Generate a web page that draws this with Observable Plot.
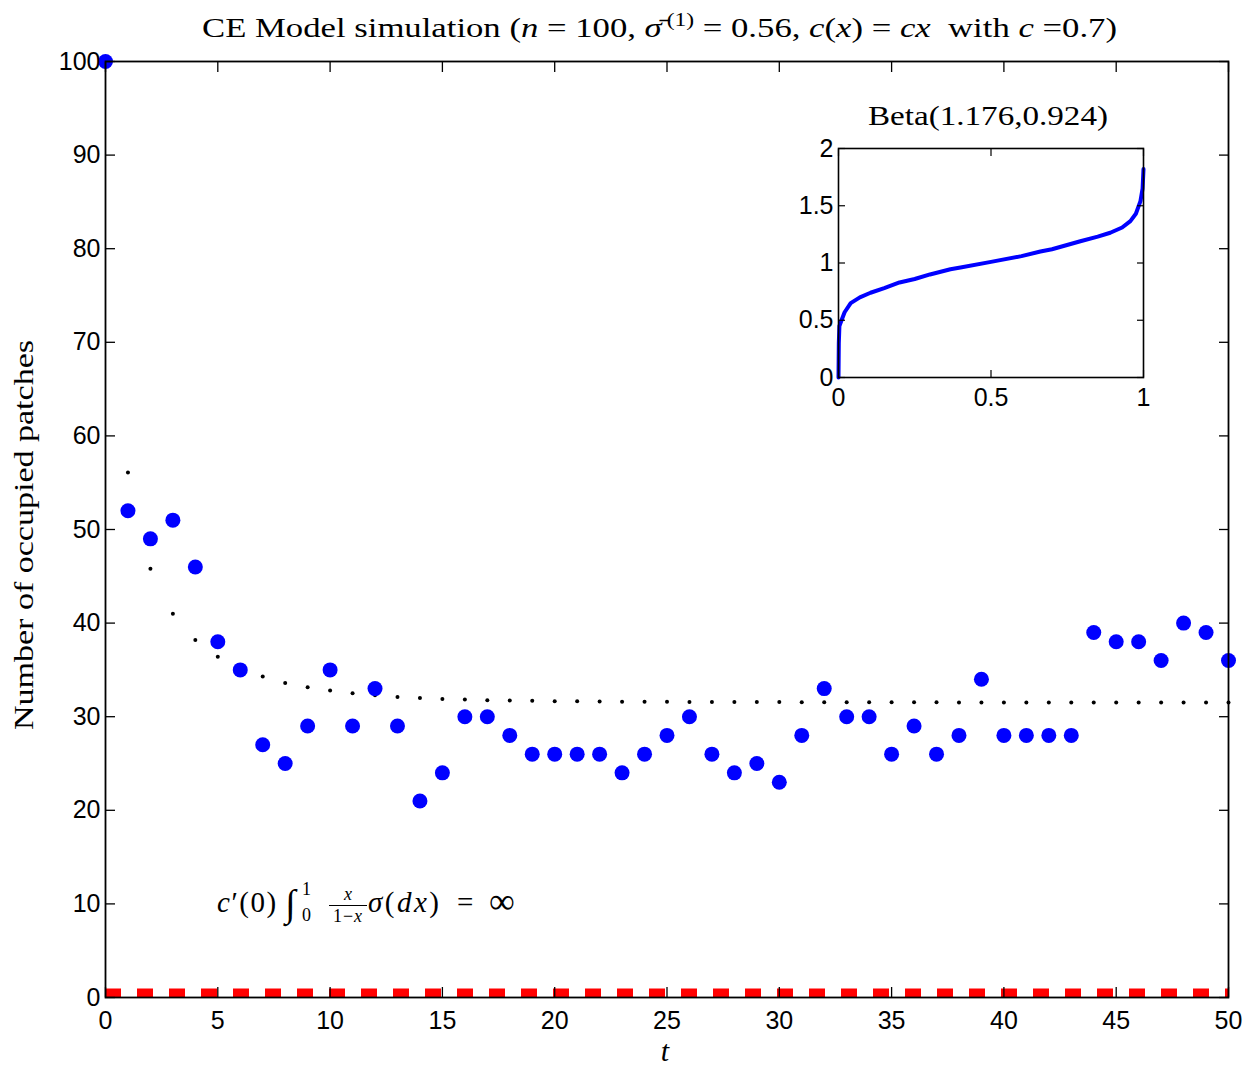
<!DOCTYPE html>
<html>
<head>
<meta charset="utf-8">
<script src="https://cdn.jsdelivr.net/npm/d3@7"></script>
<script src="https://cdn.jsdelivr.net/npm/@observablehq/plot@0.6"></script>
<style>
  body { margin: 0; background: #fff; }
  #wrap { position: relative; width: 1250px; height: 1069px; }
  #main, #inset, #overlay { position: absolute; }
  #main { left: 0; top: 0; }
  #inset { left: 778px; top: 138px; }
  #overlay { left: 0; top: 0; pointer-events: none; }
  #overlay text { font-family: "Liberation Serif", "DejaVu Serif", serif; fill: #000; }
</style>
</head>
<body>
<div id="wrap">
  <div id="main"></div>
  <div id="inset"></div>
  <svg id="overlay" width="1250" height="1069" xmlns="http://www.w3.org/2000/svg">
    <text x="202" y="37" font-size="28" textLength="915" lengthAdjust="spacingAndGlyphs">CE Model simulation (<tspan font-style="italic">n</tspan> = 100, <tspan font-style="italic">σ̄</tspan><tspan font-size="19" dx="4" dy="-11">(1)</tspan><tspan dy="11"> = 0.56, </tspan><tspan font-style="italic">c</tspan>(<tspan font-style="italic">x</tspan>) = <tspan font-style="italic">cx</tspan>&#160;&#160;with <tspan font-style="italic">c</tspan> =0.7)</text>
    <text transform="translate(33,535) rotate(-90)" text-anchor="middle" font-size="28" textLength="390" lengthAdjust="spacingAndGlyphs">Number of occupied patches</text>
    <text x="665" y="1061" text-anchor="middle" font-size="30" font-style="italic">t</text>
    <text x="868" y="125" font-size="28" textLength="240" lengthAdjust="spacingAndGlyphs">Beta(1.176,0.924)</text>
    <text x="217" y="912" font-size="29" letter-spacing="1.5"><tspan font-style="italic">c</tspan>′(0)</text>
    <text x="285" y="916" font-size="38">∫</text>
    <text x="302" y="895" font-size="18">1</text>
    <text x="302" y="921" font-size="18">0</text>
    <text x="348" y="900" font-size="18" text-anchor="middle" font-style="italic">x</text>
    <line x1="329" x2="367" y1="905.5" y2="905.5" stroke="#000" stroke-width="1"></line>
    <text x="348" y="922" font-size="18" text-anchor="middle" letter-spacing="1">1−<tspan font-style="italic">x</tspan></text>
    <text x="368" y="912" font-size="29" letter-spacing="2.5"><tspan font-style="italic">σ</tspan>(<tspan font-style="italic">dx</tspan>)</text>
    <text x="457" y="912" font-size="29">=</text>
    <text x="489" y="913" font-size="36">∞</text>
  </svg>
</div>
<script>
// ---- data ----
const tSteps = [0,1,2,3,4,5,6,7,8,9,10,11,12,13,14,15,16,17,18,19,20,21,22,23,24,25,26,27,28,29,30,31,32,33,34,35,36,37,38,39,40,41,42,43,44,45,46,47,48,49,50];
const occupied = [100,52,49,51,46,38,35,27,25,29,35,29,33,29,21,24,30,30,28,26,26,26,26,24,26,28,30,26,24,25,23,28,33,30,30,26,29,26,28,34,28,28,28,28,39,38,38,36,40,39,36];
const expected = [100,56.1,45.8,41.0,38.2,36.4,35.2,34.3,33.6,33.15,32.8,32.5,32.3,32.1,32.0,31.9,31.84,31.77,31.73,31.7,31.66,31.64,31.62,31.61,31.6,31.59,31.58,31.57,31.57,31.56,31.56,31.55,31.55,31.55,31.54,31.54,31.54,31.54,31.53,31.53,31.53,31.53,31.53,31.53,31.52,31.52,31.52,31.52,31.52,31.52,31.52];
const extinctionLine = [0];
const yTicks = [0,10,20,30,40,50,60,70,80,90,100];
const xTicks = [0,5,10,15,20,25,30,35,40,45,50];

const betaX = [0,0.001,0.003,0.01,0.02,0.04,0.07,0.105,0.15,0.2,0.25,0.3,0.367,0.4,0.5,0.6,0.662,0.7,0.793,0.85,0.891,0.93,0.957,0.975,0.99,0.997,1.0];
const betaY = [0,0.3,0.45,0.5,0.57,0.65,0.70,0.74,0.78,0.83,0.86,0.90,0.945,0.96,1.01,1.06,1.10,1.12,1.19,1.23,1.264,1.31,1.366,1.43,1.54,1.65,1.82];
const insetYTicks = [0,0.5,1,1.5,2];
const insetXTicks = [0,0.5,1];

// ---- tables built from the arrays ----
const series = tSteps.map((t, i) => ({t, occ: occupied[i], exp: expected[i]}));
const betaPts = betaX.map((x, i) => ({x, y: betaY[i]}));

const font = {fontFamily: "'Liberation Sans', Arial, sans-serif", fontSize: "25px", color: "black", overflow: "visible"};

const main = Plot.plot({
  width: 1250, height: 1069,
  marginLeft: 105, marginRight: 22, marginTop: 61, marginBottom: 72,
  style: {...font, background: "transparent"},
  x: {domain: [0, 50]},
  y: {domain: [0, 100]},
  marks: [
    Plot.ruleY(extinctionLine, {stroke: "#ff0000", strokeWidth: 18, strokeDasharray: "16,16", clip: true}),
    Plot.dot(series, {x: "t", y: "exp", r: 2, fill: "black"}),
    Plot.dot(series, {x: "t", y: "occ", r: 7.5, fill: "#0000ff"}),
    Plot.axisY({anchor: "left", ticks: yTicks, tickSize: 10, insetLeft: 10, tickPadding: 5, label: null, strokeWidth: 1.3}),
    Plot.axisY({anchor: "right", ticks: yTicks, tickSize: 10, insetRight: 10, tickFormat: () => "", label: null, strokeWidth: 1.3}),
    Plot.axisX({anchor: "bottom", ticks: xTicks, tickSize: 10, insetBottom: 10, tickPadding: 14, label: null, strokeWidth: 1.3}),
    Plot.axisX({anchor: "top", ticks: xTicks, tickSize: 10, insetTop: 10, tickFormat: () => "", label: null, strokeWidth: 1.3}),
    Plot.frame({stroke: "black", strokeWidth: 1.8})
  ]
});
document.getElementById("main").appendChild(main);

const inset = Plot.plot({
  width: 385, height: 274,
  marginLeft: 60, marginRight: 20, marginTop: 10, marginBottom: 35,
  style: {...font, background: "white"},
  x: {domain: [0, 1]},
  y: {domain: [0, 2]},
  marks: [
    Plot.line(betaPts, {x: "x", y: "y", stroke: "#0000ff", strokeWidth: 4}),
    Plot.axisY({anchor: "left", ticks: insetYTicks, tickFormat: d => String(d), tickSize: 7, insetLeft: 7, tickPadding: 5, label: null, strokeWidth: 1.2}),
    Plot.axisY({anchor: "right", ticks: insetYTicks, tickFormat: () => "", tickSize: 7, insetRight: 7, label: null, strokeWidth: 1.2}),
    Plot.axisX({anchor: "bottom", ticks: insetXTicks, tickFormat: d => String(d), tickSize: 7, insetBottom: 7, tickPadding: 11, label: null, strokeWidth: 1.2}),
    Plot.axisX({anchor: "top", ticks: insetXTicks, tickFormat: () => "", tickSize: 7, insetTop: 7, label: null, strokeWidth: 1.2}),
    Plot.frame({stroke: "black", strokeWidth: 1.6})
  ]
});
document.getElementById("inset").appendChild(inset);
</script>
</body>
</html>
